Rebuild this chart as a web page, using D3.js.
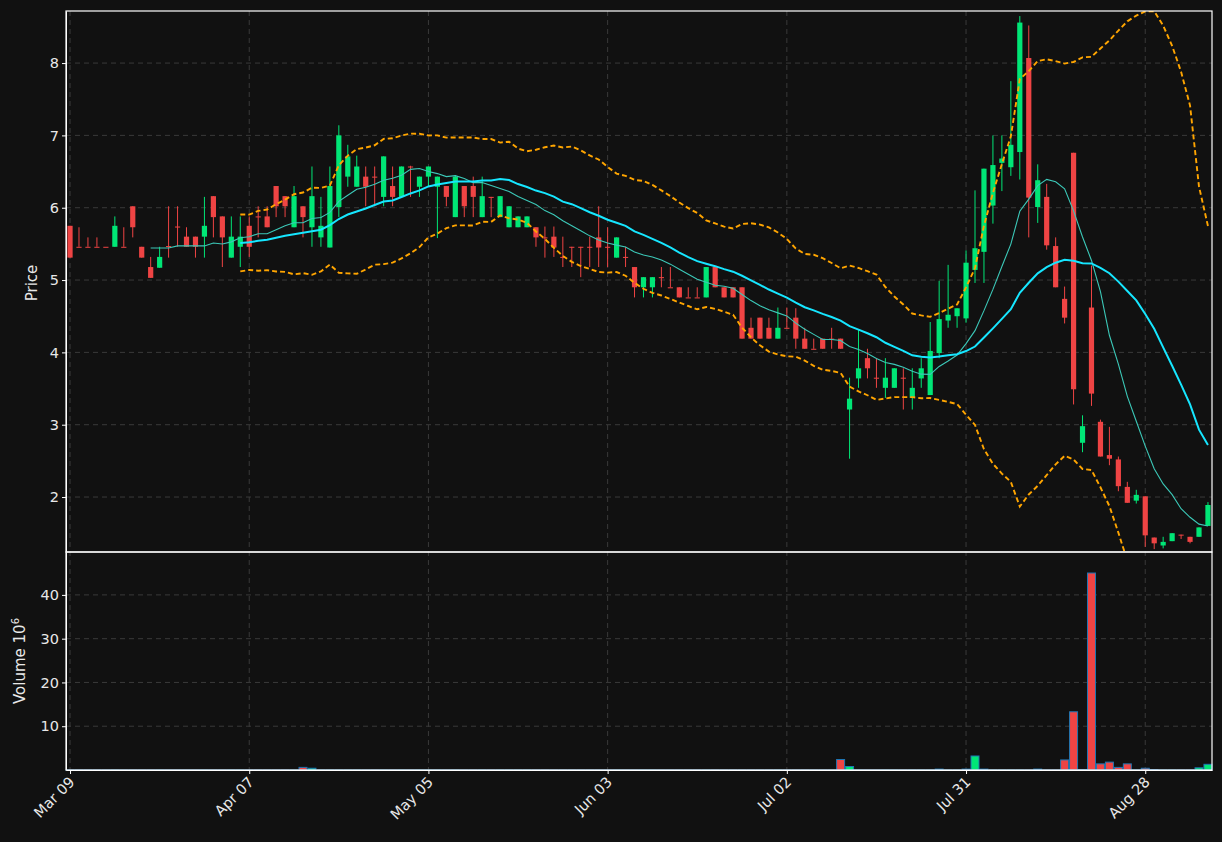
<!DOCTYPE html>
<html>
<head>
<meta charset="utf-8">
<script src="https://cdnjs.cloudflare.com/ajax/libs/d3/7.8.5/d3.min.js"></script>
<style>
    html, body { margin: 0; padding: 0; background: #111111; }
    svg { display: block; font-family: "DejaVu Sans", sans-serif; }
</style>
</head>
<body>
<svg id="chart" width="1222" height="842"></svg>
<script>
// OHLC, one entry per trading day
var opens = [5.75,5.46,5.46,5.46,5.46,5.46,5.46,6.02,5.46,5.18,5.17,5.47,5.74,5.60,5.60,5.60,6.16,5.88,5.31,5.46,
    5.75,5.88,5.88,6.30,6.16,5.73,6.02,5.73,5.59,5.45,6.01,6.43,6.29,6.43,6.43,6.15,6.30,6.15,6.57,6.29,
    6.43,6.29,6.30,5.87,6.30,6.30,5.87,6.15,5.87,5.73,5.73,5.73,5.73,5.59,5.60,5.32,5.46,5.46,5.46,5.59,
    5.46,5.31,5.32,5.18,4.90,4.90,5.04,4.90,4.90,4.76,4.76,4.76,5.18,4.90,4.90,4.90,4.34,4.48,4.34,4.19,
    4.34,4.48,4.19,4.05,4.19,4.19,4.19,3.21,3.64,3.92,3.65,3.51,3.51,3.65,3.37,3.64,3.41,3.99,4.44,4.50,
    4.47,5.14,5.39,6.03,6.62,6.56,6.77,8.07,6.01,6.15,5.47,4.74,6.76,2.75,4.62,3.04,2.58,2.52,2.14,1.95,
    2.01,1.44,1.33,1.39,1.48,1.45,1.45,1.60];
var highs = [5.75,5.73,5.59,5.59,5.46,5.88,5.73,6.02,5.46,5.32,5.46,6.02,6.02,5.73,5.60,6.15,6.16,5.88,5.88,5.88,
    5.88,6.02,6.02,6.30,6.16,6.30,6.02,6.57,6.15,6.57,7.14,6.87,6.72,6.57,6.57,6.71,6.57,6.57,6.58,6.43,
    6.57,6.43,6.30,6.45,6.30,6.43,6.43,6.15,6.16,6.02,5.88,5.88,5.73,5.74,5.74,5.60,5.46,5.46,5.60,6.02,
    5.73,5.59,5.46,5.18,5.04,5.04,5.18,5.18,4.90,4.90,4.90,5.18,5.18,4.90,4.90,4.90,4.48,4.48,4.48,4.62,
    4.62,4.61,4.34,4.19,4.19,4.34,4.19,3.65,4.32,4.05,3.92,3.92,3.78,3.78,3.78,3.92,4.42,4.99,5.21,4.61,
    5.41,6.24,6.54,7.00,7.00,7.75,8.65,8.52,6.60,6.33,5.59,4.91,6.76,3.13,5.20,3.07,2.97,2.56,2.21,2.10,
    2.01,1.44,1.45,1.50,1.48,1.45,1.58,1.93];
var lows = [5.31,5.46,5.46,5.46,5.46,5.46,5.46,5.59,5.31,5.03,5.17,5.31,5.46,5.46,5.31,5.31,5.59,5.18,5.31,5.18,
    5.32,5.59,5.73,5.87,5.87,5.73,5.59,5.46,5.46,5.45,5.87,6.29,6.29,6.02,6.02,6.02,6.02,6.15,6.15,6.15,
    6.29,5.58,6.02,5.87,5.87,5.87,5.87,5.87,5.87,5.73,5.73,5.73,5.46,5.31,5.32,5.18,5.18,5.04,5.18,5.18,
    5.18,5.31,5.18,4.76,4.76,4.76,4.90,4.90,4.76,4.76,4.76,4.76,4.90,4.76,4.76,4.19,4.19,4.19,4.19,4.19,
    4.34,4.05,4.05,4.05,4.05,4.05,4.05,2.53,3.51,3.64,3.51,3.37,3.51,3.21,3.21,3.51,3.41,3.92,4.34,4.34,
    4.41,4.96,4.96,5.78,6.23,6.44,6.39,5.59,5.79,5.42,4.90,4.40,3.28,2.62,3.26,2.56,2.44,2.08,1.92,1.91,
    1.31,1.28,1.29,1.39,1.42,1.36,1.45,1.60];
var closes = [5.31,5.46,5.46,5.46,5.46,5.75,5.46,5.73,5.31,5.03,5.32,5.46,5.74,5.46,5.46,5.75,5.87,5.59,5.60,5.60,
    5.46,5.88,5.73,6.02,6.02,6.16,5.87,6.16,5.75,6.30,7.00,6.71,6.57,6.29,6.43,6.71,6.15,6.57,6.57,6.43,
    6.57,6.43,6.15,6.43,6.02,6.15,6.16,6.15,6.16,6.02,5.88,5.88,5.59,5.59,5.45,5.32,5.46,5.46,5.46,5.45,
    5.46,5.59,5.32,4.90,5.04,5.04,5.04,4.90,4.76,4.76,4.76,5.18,4.90,4.76,4.76,4.19,4.19,4.19,4.19,4.34,
    4.34,4.19,4.05,4.05,4.05,4.19,4.05,3.36,3.78,3.78,3.65,3.65,3.78,3.65,3.51,3.78,4.02,4.46,4.52,4.61,
    5.24,5.44,6.54,6.59,6.68,6.87,8.56,6.14,6.38,5.48,4.90,4.48,3.49,2.98,3.43,2.56,2.53,2.15,1.92,2.03,
    1.47,1.36,1.38,1.50,1.48,1.38,1.58,1.89];
// volume in millions; days not listed are near zero
var volumeSpikes = {26: 0.6, 27: 0.4, 86: 2.4, 87: 0.8, 97: 0.2, 100: 0.2, 101: 3.2, 102: 0.2, 108: 0.2,
    111: 2.3, 112: 13.3, 113: 0.1, 114: 45, 115: 1.4, 116: 1.8, 117: 0.6, 118: 1.4, 120: 0.4, 121: 0.1,
    126: 0.5, 127: 1.3};
var volumes = closes.map(function(d, i){ return volumeSpikes[i] || 0.02; });

var dateTicks = [0, 20, 40, 60, 80, 100, 120];
var dateLabels = ["Mar 09", "Apr 07", "May 05", "Jun 03", "Jul 02", "Jul 31", "Aug 28"];
var priceTicks = [2, 3, 4, 5, 6, 7, 8];
var volumeTicks = [10, 20, 30, 40];

var upColor = "#00e676", downColor = "#ef4444";

var left = 66, right = 1212, priceTop = 11, priceBottom = 552, volBottom = 770;
var svg = d3.select("#chart");
svg.append("rect").attr("width", 1222).attr("height", 842).attr("fill", "#111111");

var x = d3.scaleLinear().domain([-0.45, closes.length - 0.55]).range([left, right]);
var y = d3.scaleLinear().domain([1.24, 8.72]).range([priceBottom, priceTop]);
var yv = d3.scaleLinear().domain([0, 49.8]).range([volBottom, priceBottom]);

svg.append("defs").append("clipPath").attr("id", "clipPrice")
    .append("rect").attr("x", left).attr("y", priceTop).attr("width", right - left).attr("height", priceBottom - priceTop);

// grids
var gridColor = "#3a3a3a";
function hgrid(scale, ticks){
    svg.append("g").selectAll("line").data(ticks).enter().append("line")
        .attr("x1", left).attr("x2", right)
        .attr("y1", function(d){ return scale(d); }).attr("y2", function(d){ return scale(d); })
        .attr("stroke", gridColor).attr("stroke-dasharray", "5,4");
}
hgrid(y, priceTicks);
hgrid(yv, volumeTicks);
svg.append("g").selectAll("line").data(dateTicks).enter().append("line")
    .attr("x1", function(d){ return x(d); }).attr("x2", function(d){ return x(d); })
    .attr("y1", priceTop).attr("y2", volBottom)
    .attr("stroke", gridColor).attr("stroke-dasharray", "5,4");

// moving averages and bands
function sma(n){
    return closes.map(function(d, i){
        if (i < n - 1) return null;
        return d3.mean(closes.slice(i - n + 1, i + 1));
    });
}
function band(n, k){
    return closes.map(function(d, i){
        if (i < n - 1) return null;
        var w = closes.slice(i - n + 1, i + 1);
        return d3.mean(w) + k * d3.deviation(w);
    });
}
var lineGen = d3.line().defined(function(d){ return d !== null; })
    .x(function(d, i){ return x(i); }).y(function(d){ return y(d); });

var over = svg.append("g").attr("clip-path", "url(#clipPrice)");

// candles
var candles = over.selectAll(".candle").data(closes).enter().append("g");
candles.append("line")
    .attr("x1", function(d, i){ return x(i); }).attr("x2", function(d, i){ return x(i); })
    .attr("y1", function(d, i){ return y(highs[i]); }).attr("y2", function(d, i){ return y(lows[i]); })
    .attr("stroke", function(d, i){ return d > opens[i] ? upColor : downColor; })
    .attr("stroke-width", 1);
candles.append("rect")
    .attr("x", function(d, i){ return x(i) - 2.6; }).attr("width", 5.2)
    .attr("y", function(d, i){ return y(Math.max(d, opens[i])); })
    .attr("height", function(d, i){ return Math.max(1, Math.abs(y(d) - y(opens[i]))); })
    .attr("fill", function(d, i){ return d > opens[i] ? upColor : downColor; });

over.append("path").datum(sma(10)).attr("d", lineGen)
    .attr("fill", "none").attr("stroke", "#3cc8b8").attr("stroke-width", 1.1);
over.append("path").datum(sma(20)).attr("d", lineGen)
    .attr("fill", "none").attr("stroke", "#16e6ff").attr("stroke-width", 2);
[band(20, 2), band(20, -2)].forEach(function(b){
    over.append("path").datum(b).attr("d", lineGen)
        .attr("fill", "none").attr("stroke", "#ffa500").attr("stroke-width", 1.9)
        .attr("stroke-dasharray", "5,3");
});

// volume
svg.append("g").selectAll("rect").data(volumes).enter().append("rect")
    .attr("x", function(d, i){ return x(i) - 4; }).attr("width", 8)
    .attr("y", function(d){ return yv(d); })
    .attr("height", function(d){ return volBottom - yv(d); })
    .attr("fill", function(d, i){ return closes[i] > opens[i] ? upColor : downColor; })
    .attr("stroke", "#1f77b4").attr("stroke-width", 1);

// axes
var textColor = "#e8e8e8";
function styleAxis(g){
    g.attr("font-size", null);
    g.selectAll("path, line").attr("stroke", "#ffffff");
    g.selectAll("text").attr("fill", textColor).style("font-size", "14.5px").style("font-family", "DejaVu Sans, sans-serif");
}
svg.append("g").attr("transform", "translate(" + left + ",0)")
    .call(d3.axisLeft(y).tickValues(priceTicks).tickSize(4).tickSizeOuter(0)).call(styleAxis);
svg.append("g").attr("transform", "translate(" + left + ",0)")
    .call(d3.axisLeft(yv).tickValues(volumeTicks).tickSize(4).tickSizeOuter(0)).call(styleAxis);
var xa = svg.append("g").attr("transform", "translate(0," + volBottom + ")")
    .call(d3.axisBottom(x).tickValues(dateTicks).tickFormat(function(d, i){ return dateLabels[i]; })
        .tickSize(4).tickSizeOuter(0)).call(styleAxis);
xa.selectAll("text").attr("text-anchor", "end").attr("dy", null).attr("y", 0)
    .attr("transform", "translate(5,13) rotate(-45)");

// frames
[[priceTop, priceBottom], [priceBottom, volBottom]].forEach(function(p){
    svg.append("rect").attr("x", left).attr("y", p[0]).attr("width", right - left).attr("height", p[1] - p[0])
        .attr("fill", "none").attr("stroke", "#ffffff").attr("stroke-width", 1.2);
});

svg.append("text").attr("transform", "translate(37,283) rotate(-90)")
    .attr("text-anchor", "middle").attr("fill", textColor).style("font-size", "15px").text("Price");
var vl = svg.append("text").attr("transform", "translate(25,661) rotate(-90)")
    .attr("text-anchor", "middle").attr("fill", textColor).style("font-size", "15px");
vl.append("tspan").text("Volume  10");
vl.append("tspan").attr("dy", -6).style("font-size", "10px").text("6");
</script>
</body>
</html>
